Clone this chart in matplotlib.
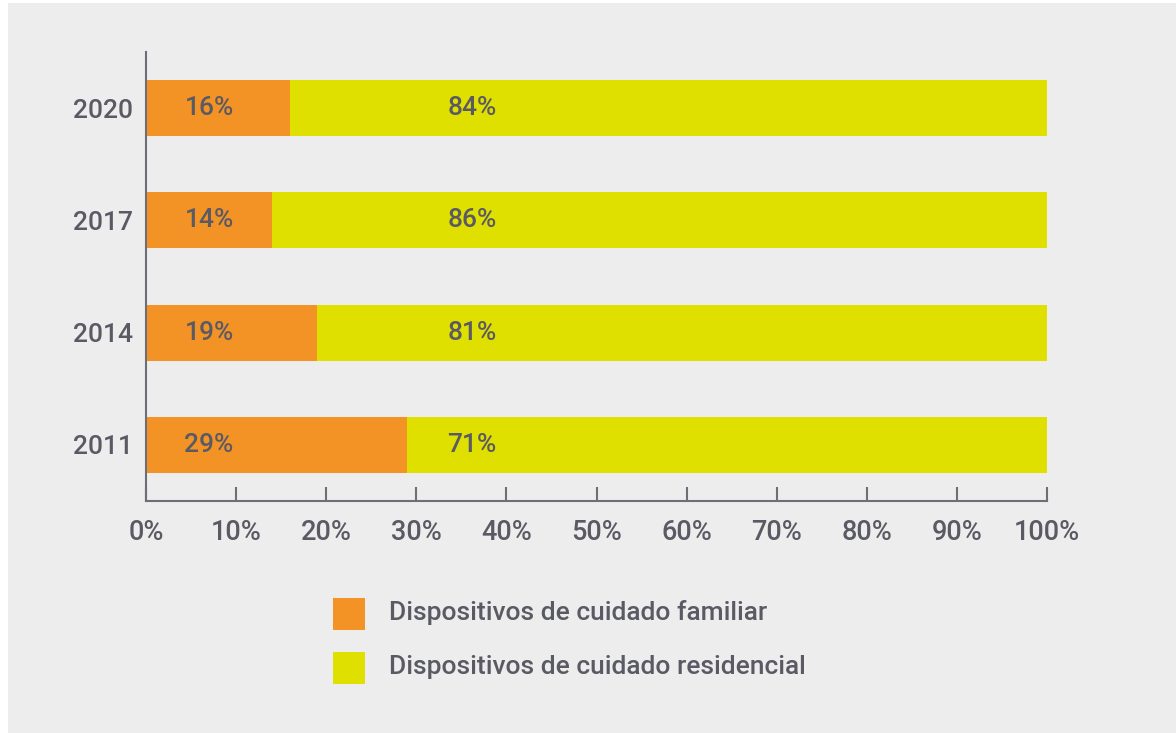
import matplotlib
matplotlib.use("Agg")
import matplotlib.pyplot as plt
from matplotlib import font_manager as fm
from matplotlib.patches import Rectangle

years = ["2011", "2014", "2017", "2020"]
familiar = [29, 19, 14, 16]
residencial = [71, 81, 86, 84]
series_names = ["Dispositivos de cuidado familiar", "Dispositivos de cuidado residencial"]
x_ticks = [0, 10, 20, 30, 40, 50, 60, 70, 80, 90, 100]

ORANGE = "#f39325"
YELLOW = "#dfdf00"
TEXT = "#5a5a64"
AXIS = "#6e6e76"
BG = "#ededed"

# Roboto Medium, picked by file so the 500 weight is used
medium_path = next((f.fname for f in fm.fontManager.ttflist
                    if f.fname.endswith("Roboto-Medium.ttf")), None)


def font(size):
    if medium_path:
        return fm.FontProperties(fname=medium_path, size=size)
    return fm.FontProperties(family="Roboto", weight="medium", size=size)


plt.rcParams["font.family"] = ["Roboto", "DejaVu Sans"]

W, H = 1176, 733
fig = plt.figure(figsize=(W / 100, H / 100), dpi=100, facecolor="white")
fig.patches.append(Rectangle((8 / W, 0), 1 - 8 / W, 1 - 3 / H, transform=fig.transFigure,
                             facecolor=BG, edgecolor="none", zorder=-10))

ax = fig.add_axes([146 / W, 1 - 501 / H, (1047 - 146) / W, (501 - 52) / H])
ax.set_facecolor("none")

ypos = list(range(len(years)))
ax.barh(ypos, familiar, height=0.5, color=ORANGE, label=series_names[0])
ax.barh(ypos, residencial, left=familiar, height=0.5, color=YELLOW, label=series_names[1])

for y, f, r in zip(ypos, familiar, residencial):
    ax.text(7, y, f"{f}%", ha="center", va="center", fontproperties=font(19), color=TEXT)
    ax.text(36.2, y, f"{r}%", ha="center", va="center", fontproperties=font(19), color=TEXT)

ax.set_xlim(0, 100)
ax.set_ylim(-0.5, 3.5)
ax.set_yticks(ypos)
ax.set_yticklabels(years, fontproperties=font(19), color=TEXT)
ax.set_xticks(x_ticks)
ax.set_xticklabels([f"{t}%" for t in x_ticks], fontproperties=font(19.5), color=TEXT)

for side in ("top", "right"):
    ax.spines[side].set_visible(False)
for side in ("left", "bottom"):
    ax.spines[side].set_color(AXIS)
    ax.spines[side].set_linewidth(1.5)

ax.tick_params(axis="y", length=0, pad=9)
ax.tick_params(axis="x", direction="in", length=10, width=1.5, color=AXIS, pad=13)

# legend: colour squares with their series names beside them
box_x, box_size, text_x = 333, 32, 389
box_tops = [598, 652]
for name, color, top in zip(series_names, [ORANGE, YELLOW], box_tops):
    fig.patches.append(Rectangle((box_x / W, 1 - (top + box_size) / H), box_size / W, box_size / H,
                                 transform=fig.transFigure, facecolor=color, edgecolor="none"))
    fig.text(text_x / W, 1 - (top + 22) / H, name, ha="left", va="baseline",
             fontproperties=font(19), color=TEXT)

fig.savefig("out.png", dpi=100, facecolor="white")
